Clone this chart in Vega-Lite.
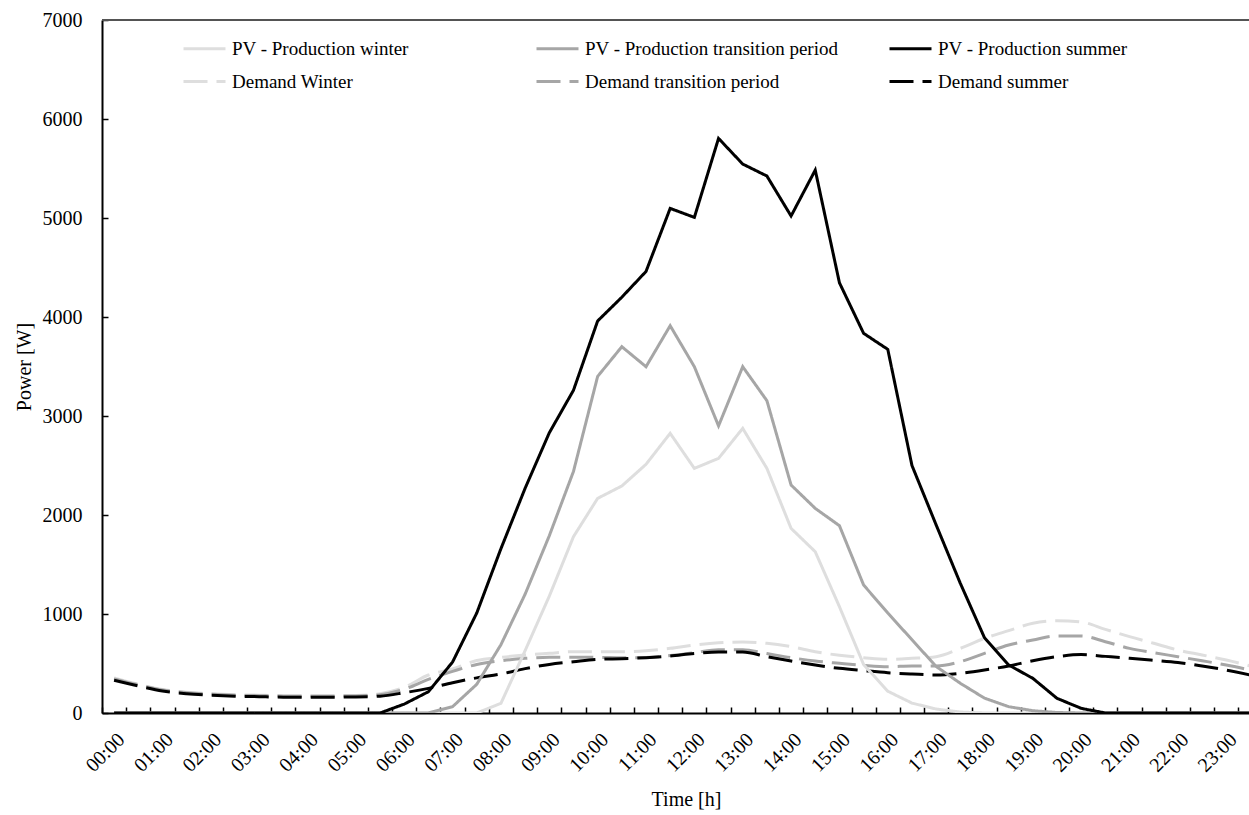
{
  "$schema": "https://vega.github.io/schema/vega-lite/v6.json",
  "width": 1147,
  "height": 693,
  "autosize": "none",
  "padding": {"left": 102, "top": 20, "right": 0, "bottom": 102},
  "background": "white",
  "config": {
    "view": {"stroke": null},
    "font": "Liberation Serif",
    "axis": {"labelFont": "Liberation Serif", "titleFont": "Liberation Serif", "labelColor": "#000", "titleColor": "#000", "titleFontWeight": "normal", "labelFontSize": 20, "titleFontSize": 20, "grid": false},
    "legend": {"labelFont": "Liberation Serif", "labelColor": "#000", "labelFontSize": 19}
  },
  "data": {
    "values": [
      {"i":0,"time":"00:00","PV - Production winter":0,"PV - Production transition period":0,"PV - Production summer":0,"Demand Winter":355,"Demand transition period":345,"Demand summer":330},
      {"i":1,"time":"00:30","PV - Production winter":0,"PV - Production transition period":0,"PV - Production summer":0,"Demand Winter":290,"Demand transition period":285,"Demand summer":273},
      {"i":2,"time":"01:00","PV - Production winter":0,"PV - Production transition period":0,"PV - Production summer":0,"Demand Winter":238,"Demand transition period":232,"Demand summer":222},
      {"i":3,"time":"01:30","PV - Production winter":0,"PV - Production transition period":0,"PV - Production summer":0,"Demand Winter":210,"Demand transition period":205,"Demand summer":195},
      {"i":4,"time":"02:00","PV - Production winter":0,"PV - Production transition period":0,"PV - Production summer":0,"Demand Winter":195,"Demand transition period":190,"Demand summer":180},
      {"i":5,"time":"02:30","PV - Production winter":0,"PV - Production transition period":0,"PV - Production summer":0,"Demand Winter":185,"Demand transition period":180,"Demand summer":170},
      {"i":6,"time":"03:00","PV - Production winter":0,"PV - Production transition period":0,"PV - Production summer":0,"Demand Winter":180,"Demand transition period":175,"Demand summer":165},
      {"i":7,"time":"03:30","PV - Production winter":0,"PV - Production transition period":0,"PV - Production summer":0,"Demand Winter":175,"Demand transition period":170,"Demand summer":160},
      {"i":8,"time":"04:00","PV - Production winter":0,"PV - Production transition period":0,"PV - Production summer":0,"Demand Winter":175,"Demand transition period":170,"Demand summer":160},
      {"i":9,"time":"04:30","PV - Production winter":0,"PV - Production transition period":0,"PV - Production summer":0,"Demand Winter":175,"Demand transition period":170,"Demand summer":160},
      {"i":10,"time":"05:00","PV - Production winter":0,"PV - Production transition period":0,"PV - Production summer":0,"Demand Winter":178,"Demand transition period":172,"Demand summer":162},
      {"i":11,"time":"05:30","PV - Production winter":0,"PV - Production transition period":0,"PV - Production summer":0,"Demand Winter":195,"Demand transition period":185,"Demand summer":170},
      {"i":12,"time":"06:00","PV - Production winter":0,"PV - Production transition period":0,"PV - Production summer":90,"Demand Winter":259,"Demand transition period":240,"Demand summer":205},
      {"i":13,"time":"06:30","PV - Production winter":0,"PV - Production transition period":0,"PV - Production summer":215,"Demand Winter":384,"Demand transition period":340,"Demand summer":249},
      {"i":14,"time":"07:00","PV - Production winter":0,"PV - Production transition period":64,"PV - Production summer":515,"Demand Winter":445,"Demand transition period":420,"Demand summer":306},
      {"i":15,"time":"07:30","PV - Production winter":0,"PV - Production transition period":290,"PV - Production summer":1010,"Demand Winter":530,"Demand transition period":490,"Demand summer":355},
      {"i":16,"time":"08:00","PV - Production winter":98,"PV - Production transition period":690,"PV - Production summer":1660,"Demand Winter":562,"Demand transition period":528,"Demand summer":394},
      {"i":17,"time":"08:30","PV - Production winter":630,"PV - Production transition period":1200,"PV - Production summer":2270,"Demand Winter":586,"Demand transition period":552,"Demand summer":448},
      {"i":18,"time":"09:00","PV - Production winter":1180,"PV - Production transition period":1790,"PV - Production summer":2830,"Demand Winter":603,"Demand transition period":562,"Demand summer":491},
      {"i":19,"time":"09:30","PV - Production winter":1781,"PV - Production transition period":2440,"PV - Production summer":3260,"Demand Winter":619,"Demand transition period":562,"Demand summer":518},
      {"i":20,"time":"10:00","PV - Production winter":2168,"PV - Production transition period":3400,"PV - Production summer":3960,"Demand Winter":619,"Demand transition period":562,"Demand summer":542},
      {"i":21,"time":"10:30","PV - Production winter":2293,"PV - Production transition period":3700,"PV - Production summer":4200,"Demand Winter":619,"Demand transition period":558,"Demand summer":549},
      {"i":22,"time":"11:00","PV - Production winter":2512,"PV - Production transition period":3498,"PV - Production summer":4460,"Demand Winter":629,"Demand transition period":560,"Demand summer":559},
      {"i":23,"time":"11:30","PV - Production winter":2825,"PV - Production transition period":3912,"PV - Production summer":5097,"Demand Winter":653,"Demand transition period":580,"Demand summer":576},
      {"i":24,"time":"12:00","PV - Production winter":2471,"PV - Production transition period":3498,"PV - Production summer":5006,"Demand Winter":687,"Demand transition period":610,"Demand summer":600},
      {"i":25,"time":"12:30","PV - Production winter":2572,"PV - Production transition period":2900,"PV - Production summer":5804,"Demand Winter":710,"Demand transition period":640,"Demand summer":615},
      {"i":26,"time":"13:00","PV - Production winter":2875,"PV - Production transition period":3498,"PV - Production summer":5545,"Demand Winter":717,"Demand transition period":640,"Demand summer":615},
      {"i":27,"time":"13:30","PV - Production winter":2471,"PV - Production transition period":3155,"PV - Production summer":5424,"Demand Winter":704,"Demand transition period":600,"Demand summer":569},
      {"i":28,"time":"14:00","PV - Production winter":1865,"PV - Production transition period":2303,"PV - Production summer":5020,"Demand Winter":670,"Demand transition period":559,"Demand summer":525},
      {"i":29,"time":"14:30","PV - Production winter":1629,"PV - Production transition period":2067,"PV - Production summer":5484,"Demand Winter":619,"Demand transition period":525,"Demand summer":485},
      {"i":30,"time":"15:00","PV - Production winter":1074,"PV - Production transition period":1892,"PV - Production summer":4346,"Demand Winter":583,"Demand transition period":502,"Demand summer":451},
      {"i":31,"time":"15:30","PV - Production winter":490,"PV - Production transition period":1293,"PV - Production summer":3835,"Demand Winter":559,"Demand transition period":481,"Demand summer":428},
      {"i":32,"time":"16:00","PV - Production winter":220,"PV - Production transition period":1010,"PV - Production summer":3673,"Demand Winter":542,"Demand transition period":468,"Demand summer":407},
      {"i":33,"time":"16:30","PV - Production winter":100,"PV - Production transition period":740,"PV - Production summer":2500,"Demand Winter":552,"Demand transition period":475,"Demand summer":394},
      {"i":34,"time":"17:00","PV - Production winter":40,"PV - Production transition period":470,"PV - Production summer":1900,"Demand Winter":569,"Demand transition period":475,"Demand summer":384},
      {"i":35,"time":"17:30","PV - Production winter":10,"PV - Production transition period":300,"PV - Production summer":1310,"Demand Winter":653,"Demand transition period":518,"Demand summer":401},
      {"i":36,"time":"18:00","PV - Production winter":0,"PV - Production transition period":150,"PV - Production summer":760,"Demand Winter":754,"Demand transition period":603,"Demand summer":434},
      {"i":37,"time":"18:30","PV - Production winter":0,"PV - Production transition period":64,"PV - Production summer":485,"Demand Winter":832,"Demand transition period":687,"Demand summer":475},
      {"i":38,"time":"19:00","PV - Production winter":0,"PV - Production transition period":23,"PV - Production summer":350,"Demand Winter":906,"Demand transition period":737,"Demand summer":528},
      {"i":39,"time":"19:30","PV - Production winter":0,"PV - Production transition period":5,"PV - Production summer":148,"Demand Winter":932,"Demand transition period":778,"Demand summer":569},
      {"i":40,"time":"20:00","PV - Production winter":0,"PV - Production transition period":0,"PV - Production summer":47,"Demand Winter":919,"Demand transition period":778,"Demand summer":590},
      {"i":41,"time":"20:30","PV - Production winter":0,"PV - Production transition period":0,"PV - Production summer":0,"Demand Winter":845,"Demand transition period":720,"Demand summer":572},
      {"i":42,"time":"21:00","PV - Production winter":0,"PV - Production transition period":0,"PV - Production summer":0,"Demand Winter":771,"Demand transition period":653,"Demand summer":553},
      {"i":43,"time":"21:30","PV - Production winter":0,"PV - Production transition period":0,"PV - Production summer":0,"Demand Winter":704,"Demand transition period":609,"Demand summer":532},
      {"i":44,"time":"22:00","PV - Production winter":0,"PV - Production transition period":0,"PV - Production summer":0,"Demand Winter":636,"Demand transition period":569,"Demand summer":510},
      {"i":45,"time":"22:30","PV - Production winter":0,"PV - Production transition period":0,"PV - Production summer":0,"Demand Winter":586,"Demand transition period":528,"Demand summer":475},
      {"i":46,"time":"23:00","PV - Production winter":0,"PV - Production transition period":0,"PV - Production summer":0,"Demand Winter":535,"Demand transition period":485,"Demand summer":434},
      {"i":47,"time":"23:30","PV - Production winter":0,"PV - Production transition period":0,"PV - Production summer":0,"Demand Winter":475,"Demand transition period":434,"Demand summer":384}
    ]
  },
  "transform": [
    {"fold": ["PV - Production winter","PV - Production transition period","PV - Production summer","Demand Winter","Demand transition period","Demand summer"], "as": ["series","power"]}
  ],
  "layer": [
    {
      "mark": {"type": "rule", "color": "#555555", "strokeWidth": 1},
      "encoding": {"y": {"datum": 7000, "type": "quantitative"}}
    },
    {
      "encoding": {
        "x": {"field": "i", "type": "quantitative",
          "scale": {"domain": [-0.5, 46.94], "nice": false, "zero": false},
          "axis": {
            "title": "Time [h]",
            "titleX": 584,
            "values": [-0.5,0.5,1.5,2.5,3.5,4.5,5.5,6.5,7.5,8.5,9.5,10.5,11.5,12.5,13.5,14.5,15.5,16.5,17.5,18.5,19.5,20.5,21.5,22.5,23.5,24.5,25.5,26.5,27.5,28.5,29.5,30.5,31.5,32.5,33.5,34.5,35.5,36.5,37.5,38.5,39.5,40.5,41.5,42.5,43.5,44.5,45.5,46.5],
            "labelExpr": "(datum.value + 0.5) % 2 == 0 ? (((datum.value + 0.5) / 2 < 10 ? '0' : '') + ((datum.value + 0.5) / 2) + ':00') : ''",
            "labelAngle": -45,
            "labelOffset": 12.09,
            "labelPadding": 22,
            "labelFlush": false,
            "labelOverlap": false,
            "labelBound": false,
            "tickSize": -6,
            "tickColor": "#000",
            "tickWidth": 1.5,
            "domainColor": "#000",
            "domainWidth": 2,
            "titlePadding": 14
          }
        },
        "y": {"field": "power", "type": "quantitative",
          "scale": {"domain": [0, 7000], "nice": false},
          "axis": {
            "title": "Power [W]",
            "values": [0,1000,2000,3000,4000,5000,6000,7000],
            "format": "d",
            "tickSize": -6,
            "tickColor": "#000",
            "tickWidth": 1.5,
            "domainColor": "#000",
            "domainWidth": 2,
            "labelPadding": 26,
            "titlePadding": 8
          }
        },
        "color": {"field": "series", "type": "nominal",
          "scale": {"domain": ["PV - Production winter","PV - Production transition period","PV - Production summer","Demand Winter","Demand transition period","Demand summer"],
                    "range": ["#dedede","#a6a6a6","#000000","#dedede","#a6a6a6","#000000"]},
          "legend": {"title": null, "orient": "none", "direction": "horizontal", "legendX": 80, "legendY": 6, "columns": 3, "gridAlign": "all", "columnPadding": 44, "rowPadding": 0, "padding": 0, "symbolSize": 1764, "symbolStrokeWidth": 3, "labelOffset": 5, "labelFontSize": 19, "labelLimit": 400}
        },
        "strokeDash": {"field": "series", "type": "nominal",
          "scale": {"domain": ["PV - Production winter","PV - Production transition period","PV - Production summer","Demand Winter","Demand transition period","Demand summer"],
                    "range": [[1,0],[1,0],[1,0],[24,9],[24,9],[24,9]]},
          "legend": {"title": null, "orient": "none", "direction": "horizontal", "legendX": 80, "legendY": 6, "columns": 3, "gridAlign": "all", "columnPadding": 44, "rowPadding": 0, "padding": 0, "symbolSize": 1764, "symbolStrokeWidth": 3, "labelOffset": 5, "labelFontSize": 19, "labelLimit": 400}
        }
      },
      "layer": [
        {
          "transform": [{"filter": {"field": "series", "oneOf": ["Demand Winter","Demand transition period","Demand summer"]}}],
          "mark": {"type": "line", "strokeWidth": 3, "interpolate": "monotone", "clip": true}
        },
        {
          "transform": [{"filter": {"field": "series", "oneOf": ["PV - Production winter","PV - Production transition period","PV - Production summer"]}}],
          "mark": {"type": "line", "strokeWidth": 3, "clip": true}
        }
      ]
    }
  ]
}
